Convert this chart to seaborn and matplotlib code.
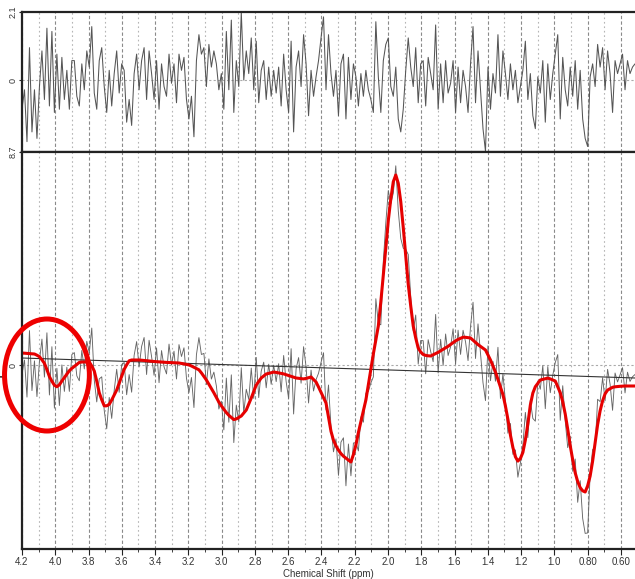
import numpy as np
import pandas as pd
import matplotlib
matplotlib.use("Agg")
import matplotlib.pyplot as plt
from matplotlib.patches import Ellipse
import seaborn as sns

sns.set_theme(style="white")
plt.rcParams["font.family"] = ["Liberation Sans", "DejaVu Sans"]

# Spectral window (ppm), high to low
ppm_start, ppm_end = 4.2, 0.515

# Fitted model (red curve), one value per spectral point
fit = [
    1.2, 1.18, 1.16, 1.14, 1.12, 1.1, 0.98, 0.83, 0.52, 0.17,
    -0.46, -1.16, -1.62, -2.02, -2.17, -1.98, -1.6, -1.26, -0.91, -0.57,
    -0.34, -0.14, 0.06, 0.26, 0.3, 0.3, 0.3, 0.3, -0.1, -0.6,
    -1.62, -2.77, -3.48, -4.08, -4.08, -3.93, -3.5, -3.0, -2.5, -1.81,
    -1.12, -0.44, 0.02, 0.42, 0.5, 0.5, 0.5, 0.5, 0.48, 0.45,
    0.43, 0.4, 0.38, 0.35, 0.33, 0.3, 0.29, 0.28, 0.26, 0.25,
    0.24, 0.23, 0.21, 0.2, 0.16, 0.11, 0.06, 0.01, -0.1, -0.23,
    -0.35, -0.48, -0.79, -1.14, -1.5, -1.92, -2.33, -2.78, -3.24, -3.71,
    -4.08, -4.42, -4.76, -5.03, -5.24, -5.46, -5.39, -5.24, -5.1, -4.8,
    -4.5, -3.9, -3.3, -2.65, -2.0, -1.65, -1.3, -1.1, -0.9, -0.84,
    -0.78, -0.71, -0.74, -0.79, -0.84, -0.89, -0.97, -1.05, -1.13, -1.22,
    -1.3, -1.33, -1.36, -1.39, -1.34, -1.27, -1.2, -1.45, -1.7, -2.2,
    -2.73, -3.26, -3.8, -5.22, -6.63, -7.53, -8.08, -8.51, -8.86, -9.12,
    -9.32, -9.51, -9.7, -8.95, -8.0, -6.75, -5.64, -4.57, -3.5, -1.96,
    -0.42, 1.11, 2.49, 3.91, 6.32, 8.97, 11.7, 14.45, 16.6, 18.33,
    19.0, 18.17, 16.33, 13.75, 10.87, 8.06, 5.9, 3.9, 2.7, 1.7,
    1.3, 1.05, 0.96, 0.92, 0.9, 1.02, 1.15, 1.27, 1.42, 1.57,
    1.72, 1.87, 2.05, 2.24, 2.42, 2.56, 2.67, 2.78, 2.77, 2.74,
    2.7, 2.48, 2.26, 2.04, 1.86, 1.68, 1.5, 1.0, 0.5, -0.1,
    -0.7, -1.45, -2.2, -2.95, -4.1, -5.44, -7.0, -8.25, -9.18, -9.61,
    -9.35, -8.75, -7.5, -5.88, -4.0, -2.81, -2.17, -1.83, -1.5, -1.44,
    -1.38, -1.31, -1.39, -1.49, -1.6, -2.18, -2.77, -3.68, -4.9, -6.42,
    -8.06, -9.48, -10.78, -11.66, -12.26, -12.58, -12.7, -12.08, -11.1, -9.6,
    -7.8, -5.96, -4.58, -3.58, -2.88, -2.51, -2.37, -2.23, -2.18, -2.15,
    -2.13, -2.11, -2.1, -2.1, -2.1, -2.1, -2.1,
]

# Fit residual (upper panel)
residual = [
    -0.9, -0.3, -1.9, 1.0, -1.6, -0.3, -1.8, -0.2, 0.9, -0.6,
    1.6, -0.8, 1.5, -1.0, 0.8, -0.9, 0.7, -0.6, 0.3, -0.9, 0.6,
    0.6, -0.5, -0.8, 0.5, -0.3, 0.9, 0.4, 1.65, -0.4, -0.9,
    0.6, 1.0, -0.2, -1.0, 0.3, -0.8, 0.2, 0.9, -0.4, 0.5,
    0.3, -1.3, -0.6, -1.4, 0.2, 0.8, -0.3, 0.6, 1.0, -0.6,
    0.9, 0.2, -0.6, 0.6, -0.9, 0.5, -0.2, -0.5, 0.8, -0.1,
    0.5, -0.7, 0.8, 0.3, 0.7, -0.6, -1.2, -0.5, -1.75, 0.6,
    1.4, 0.8, 1.0, -0.2, 1.1, 0.4, 0.9, 0.5, -0.3, 0.2,
    -0.9, 1.5, -0.3, 1.85, -1.0, 0.6, -0.2, 2.1, 0.0, 0.9,
    0.2, 1.3, -0.3, 1.2, -0.7, 0.3, 0.6, -0.6, 0.4, -0.5,
    0.3, -0.4, 0.4, -0.8, 0.8, -0.3, -1.0, 1.2, -1.6, 0.4,
    0.9, -0.2, 1.4, 0.5, -1.1, 0.3, -0.5, 0.1, 0.6, 1.3,
    1.95, -0.3, 1.4, 0.2, -0.5, 0.3, -1.1, 0.5, 0.8, -1.2,
    0.7, -0.6, 0.5, 0.1, -0.8, 0.2, -0.5, 0.3, -0.3, -0.6,
    -1.0, 1.8, 0.1, -1.0, 0.6, 1.1, 1.3, -0.2, -0.5, 0.4,
    -1.2, -1.6, -0.9, 0.3, 1.3, 0.4, -0.2, 1.0, -0.7, 0.5,
    0.6, -0.8, 0.7, 0.2, -0.3, 1.7, -0.9, 0.5, -0.7, 0.6,
    -0.4, -0.1, 0.6, -1.0, 0.4, -0.7, 0.3, -0.2, -1.0, 0.5,
    1.65, -0.7, 0.9, -0.3, -1.5, -2.2, 0.4, -0.9, 0.2, -0.4,
    1.4, -0.5, 0.9, 0.2, -0.6, 0.5, -0.3, 0.3, -0.7, -0.2,
    0.3, 1.2, -0.6, 0.2, -1.1, -1.5, 0.1, -0.4, 0.6, -1.3,
    0.5, -0.6, 0.2, 0.8, 1.4, -1.2, 0.7, -0.3, -0.8, 0.4,
    -0.5, 0.6, -0.9, 0.3, -1.2, -1.8, -2.05, 0.1, 0.5, -0.2,
    1.1, 0.4, 1.0, -0.3, 0.9, 0.2, -1.0, 0.6, 0.2, 0.5,
    0.8, -0.3, 0.6, 0.2, 0.4, 0.5,
]

# Linear baseline at both ends of the window
baseline_ends = [0.7, -1.3]
residual_gain = 2.3

x_ticks = [4.2, 4.0, 3.8, 3.6, 3.4, 3.2, 3.0, 2.8, 2.6, 2.4, 2.2, 2.0,
           1.8, 1.6, 1.4, 1.2, 1.0, 0.8, 0.6]
x_labels = ["4.2", "4.0", "3.8", "3.6", "3.4", "3.2", "3.0", "2.8", "2.6",
            "2.4", "2.2", "2.0", "1.8", "1.6", "1.4", "1.2", "1.0", "0.80", "0.60"]
minor_ticks = [4.1, 3.9, 3.7, 3.5, 3.3, 3.1, 2.9, 2.7, 2.5, 2.3, 2.1, 1.9,
               1.7, 1.5, 1.3, 1.1, 0.9, 0.7]
resid_ticks = [2.1, 0.0, -2.22]
resid_labels = ["2.1", "0", "8.7"]

n = len(fit)
ppm = np.linspace(ppm_start, ppm_end, n)
fit_arr = np.array(fit)
resid_arr = np.array(residual[:n])
spectrum = fit_arr + residual_gain * resid_arr
df = pd.DataFrame({"ppm": ppm, "fit": fit_arr, "spectrum": spectrum,
                   "residual": resid_arr})

W, H = 635, 579
fig = plt.figure(figsize=(W / 100, H / 100), dpi=100)
ax_r = fig.add_axes([22 / W, 1 - 152 / H, 1 - 22 / W, 140 / H])
ax_s = fig.add_axes([22 / W, 1 - 549 / H, 1 - 22 / W, 397 / H])

label_color = "#333333"
for ax in (ax_r, ax_s):
    ax.set_xlim(ppm_start, ppm_end)
    for t in minor_ticks:
        ax.axvline(t, color="#b5b5b5", lw=0.8, ls=(0, (1.5, 2.5)), zorder=0)
    for t in x_ticks:
        ax.axvline(t, color="#8a8a8a", lw=0.8, ls=(0, (3, 2)), zorder=0)
    ax.axhline(0, color="#aaaaaa", lw=0.8, ls=(0, (2, 2)), zorder=0)
    ax.spines["right"].set_visible(False)
    for side in ("left", "top", "bottom"):
        ax.spines[side].set_color("#222222")
        ax.spines[side].set_linewidth(1.6)
    ax.set_xticks(x_ticks)
    ax.set_xticks(minor_ticks, minor=True)
    ax.tick_params(axis="x", which="major", direction="out", length=4,
                   width=0.8, color="#222222", bottom=True)
    ax.tick_params(axis="x", which="minor", direction="out", length=2.5,
                   width=0.6, color="#222222", bottom=True)
    ax.tick_params(axis="y", direction="out", length=2.5, width=0.8,
                   color="#222222", left=True, labelsize=6.5,
                   labelcolor=label_color, pad=0.5)
    ax.set_xlabel("")
    ax.set_ylabel("")

# Residual panel
sns.lineplot(data=df, x="ppm", y="residual", ax=ax_r, color="#555555",
             linewidth=0.75, sort=False, estimator=None)
ax_r.set_ylim(-2.22, 2.1)
ax_r.set_yticks(resid_ticks)
ax_r.set_yticklabels(resid_labels, rotation=90, va="center")
ax_r.tick_params(axis="x", labelbottom=False)

# Spectrum panel
sns.lineplot(data=df, x="ppm", y="spectrum", ax=ax_s, color="#666666",
             linewidth=0.65, sort=False, estimator=None)
sns.lineplot(x=[ppm_start, ppm_end], y=baseline_ends, ax=ax_s,
             color="#333333", linewidth=0.8)
sns.lineplot(data=df, x="ppm", y="fit", ax=ax_s, color="#e60000",
             linewidth=2.2, sort=False, estimator=None)
ax_s.set_ylim(-18.4, 21.3)
ax_s.set_yticks([0])
ax_s.set_yticklabels(["0"], rotation=90, va="center")
ax_s.set_xticklabels(x_labels)
ax_s.tick_params(axis="x", labelsize=7, labelcolor=label_color, pad=2)
ax_s.set_xlabel("Chemical Shift (ppm)", fontsize=7, color=label_color,
                labelpad=1)

# Highlight marker around the 4.0 ppm region
ax_s.add_patch(Ellipse((4.05, -1.0), width=0.51, height=11.2, fill=False,
                       edgecolor="#ee0000", linewidth=3.6, clip_on=False,
                       zorder=5))

fig.savefig("out.png", dpi=100)
